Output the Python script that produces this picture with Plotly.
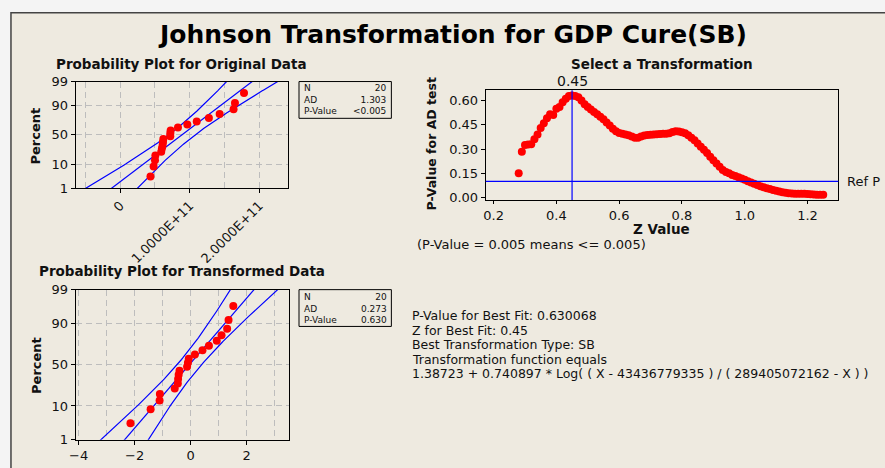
from statistics import NormalDist

import numpy as np
import plotly.graph_objects as go

W, H = 885, 468

# data
original_data = [4.35e10, 4.80e10, 5.00e10, 5.05e10, 5.90e10, 6.00e10, 6.10e10,
                 6.15e10, 6.20e10, 7.20e10, 7.20e10, 7.25e10, 8.30e10, 9.65e10,
                 1.100e11, 1.275e11, 1.430e11, 1.630e11, 1.650e11, 1.780e11]
transformed_data = [-2.15, -1.43, -1.11, -1.10, -0.57, -0.46, -0.45, -0.43, -0.40,
                    -0.13, -0.10, -0.07, 0.15, 0.42, 0.65, 0.93, 1.10, 1.30, 1.35, 1.52]

# z search for the SB transformation and AD p-values
z_values = [0.28, 0.29, 0.30, 0.31, 0.32, 0.33, 0.34, 0.35, 0.36, 0.37,
            0.38, 0.39, 0.40, 0.41, 0.42, 0.43, 0.44, 0.45, 0.46, 0.47,
            0.48, 0.49, 0.50, 0.51, 0.52, 0.53, 0.54, 0.55, 0.56, 0.57,
            0.58, 0.59, 0.60, 0.61, 0.62, 0.63, 0.64, 0.65, 0.66, 0.67,
            0.68, 0.69, 0.70, 0.71, 0.72, 0.73, 0.74, 0.75, 0.76, 0.77,
            0.78, 0.79, 0.80, 0.81, 0.82, 0.83, 0.84, 0.85, 0.86, 0.87,
            0.88, 0.89, 0.90, 0.91, 0.92, 0.93, 0.94, 0.95, 0.96, 0.97,
            0.98, 0.99, 1.00, 1.01, 1.02, 1.03, 1.04, 1.05, 1.06, 1.07,
            1.08, 1.09, 1.10, 1.11, 1.12, 1.13, 1.14, 1.15, 1.16, 1.17,
            1.18, 1.19, 1.20, 1.21, 1.22, 1.23, 1.24, 1.25]
p_values = [0.150, 0.284, 0.325, 0.328, 0.330, 0.360, 0.390, 0.430, 0.460, 0.490,
            0.515, 0.510, 0.550, 0.560, 0.590, 0.612, 0.628, 0.632, 0.628, 0.620,
            0.600, 0.578, 0.560, 0.545, 0.530, 0.515, 0.500, 0.485, 0.465, 0.445,
            0.425, 0.410, 0.400, 0.395, 0.390, 0.385, 0.378, 0.370, 0.370, 0.378,
            0.384, 0.387, 0.388, 0.390, 0.392, 0.393, 0.394, 0.395, 0.398, 0.405,
            0.410, 0.408, 0.404, 0.398, 0.385, 0.370, 0.355, 0.335, 0.315, 0.295,
            0.275, 0.252, 0.230, 0.210, 0.190, 0.170, 0.158, 0.150, 0.140, 0.133,
            0.125, 0.118, 0.110, 0.100, 0.093, 0.085, 0.078, 0.070, 0.063, 0.057,
            0.052, 0.047, 0.042, 0.038, 0.033, 0.030, 0.027, 0.025, 0.024, 0.024,
            0.024, 0.023, 0.022, 0.020, 0.018, 0.017, 0.017, 0.017]
best_z = 0.45
ref_p = 0.10

percent_ticks = [1, 10, 50, 90, 99]
orig_ticks = [0, 1e11, 2e11]
orig_ticktext = ["0", "1.0000E+11", "2.0000E+11"]

stats_keys = ["N", "AD", "P-Value"]
stats_orig = ["20", "1.303", "<0.005"]
stats_trans = ["20", "0.273", "0.630"]
summary_lines = [
    "P-Value for Best Fit: 0.630068",
    "Z for Best Fit: 0.45",
    "Best Transformation Type: SB",
    "Transformation function equals",
    "1.38723 + 0.740897 * Log( ( X - 43436779335 ) / ( 289405072162 - X ) )",
]

BG = "#EEEAE0"
FONT = "DejaVu Sans"
GRID = "#BDBDBD"
nd = NormalDist()


def pz(pct):
    return nd.inv_cdf(pct / 100.0)


def px_x(x):
    return x / W


def px_y(y):
    return 1 - y / H


def prob_traces(data, xa, ya):
    x = np.sort(np.array(data, dtype=float))
    n = len(x)
    ranks = (np.arange(1, n + 1) - 0.3) / (n + 0.4)
    zq = [nd.inv_cdf(r) for r in ranks]
    mu, sd = x.mean(), x.std(ddof=1)
    zz = np.linspace(-2.8, 2.8, 141)
    fit = mu + zz * sd
    half = 1.96 * sd * np.sqrt((1 + zz ** 2 / 2) / n)
    out = []
    for xs in (fit - half, fit, fit + half):
        out.append(go.Scatter(x=xs, y=zz, mode="lines", xaxis=xa, yaxis=ya,
                              line=dict(color="#0000FF", width=1.2),
                              hoverinfo="skip", showlegend=False))
    out.append(go.Scatter(x=x, y=zq, mode="markers", xaxis=xa, yaxis=ya,
                          marker=dict(color="#FF0000", size=8), showlegend=False))
    return out


fig = go.Figure()
for tr in prob_traces(original_data, "x", "y"):
    fig.add_trace(tr)
for tr in prob_traces(transformed_data, "x3", "y3"):
    fig.add_trace(tr)
fig.add_trace(go.Scatter(x=z_values, y=p_values, mode="markers", xaxis="x2", yaxis="y2",
                         marker=dict(color="#FF0000", size=8), showlegend=False))

tickfont = dict(family=FONT, size=13, color="#111")
grid = dict(showgrid=True, gridcolor=GRID, griddash="6px,4px", gridwidth=1)
frame = dict(showline=True, mirror=True, linecolor="black", linewidth=1,
             zeroline=False, ticks="outside", ticklen=4, tickcolor="black",
             tickfont=tickfont)

prob_y = dict(range=[pz(1), pz(99)], tickmode="array",
              tickvals=[pz(p) for p in percent_ticks],
              ticktext=[str(p) for p in percent_ticks], **grid, **frame)

fig.update_layout(
    width=W, height=H, margin=dict(l=0, r=0, t=0, b=0),
    paper_bgcolor="#F4F4F4", plot_bgcolor="white", showlegend=False,
    xaxis=dict(domain=[px_x(70), px_x(284)], anchor="y",
               range=[-0.643e11, 2.414e11], tickmode="array",
               tickvals=orig_ticks, ticktext=orig_ticktext, tickangle=-45,
               minor=dict(tickvals=[-0.5e11, 0.5e11, 1.5e11], showgrid=True,
                          gridcolor=GRID, griddash="6px,4px", ticks=""),
               **grid, **frame),
    yaxis=dict(domain=[px_y(187), px_y(77)], anchor="x", **prob_y),
    xaxis2=dict(domain=[px_x(483), px_x(838)], anchor="y2", range=[0.175, 1.298],
                tickmode="array", tickvals=[0.2, 0.4, 0.6, 0.8, 1.0, 1.2],
                tickformat=".1f", showgrid=False, **frame),
    yaxis2=dict(domain=[px_y(199.5), px_y(86)], anchor="x2", range=[-0.016, 0.664],
                tickmode="array", tickvals=[0, 0.15, 0.30, 0.45, 0.60],
                tickformat=".2f", showgrid=False, **frame),
    xaxis3=dict(domain=[px_x(70), px_x(285)], anchor="y3", range=[-4.11, 3.51],
                tickmode="array", tickvals=[-4, -2, 0, 2],
                minor=dict(tickvals=[-3, -1, 1, 3], showgrid=True,
                           gridcolor=GRID, griddash="6px,4px", ticks=""),
                **grid, **frame),
    yaxis3=dict(domain=[px_y(447), px_y(292)], anchor="x3", **prob_y),
)
fig.update_xaxes(ticklen=3, selector=dict(anchor="y2"))

shapes = [
    # Minitab-style window frame
    dict(type="rect", xref="paper", yref="paper", x0=px_x(5), x1=1.02,
         y0=-0.02, y1=px_y(6), fillcolor=BG, line=dict(color="#444", width=1.5),
         layer="below"),
    # reference lines on the transformation plot
    dict(type="line", xref="x2", yref="y2 domain", x0=best_z, x1=best_z, y0=0, y1=1,
         line=dict(color="#0000FF", width=1.2)),
    dict(type="line", xref="x2 domain", yref="y2", x0=0, x1=1, y0=ref_p, y1=ref_p,
         line=dict(color="#0000FF", width=1.2)),
]
box_rows = ((77, 115), (292, 330))
for y0, y1 in box_rows:
    shapes.append(dict(type="rect", xref="paper", yref="paper",
                       x0=px_x(295), x1=px_x(388), y0=px_y(y1), y1=px_y(y0),
                       line=dict(color="black", width=1), fillcolor=BG))
fig.update_layout(shapes=shapes)


def txt(x, y, s, size=11, bold=False, xanchor="left", angle=0, color="#111",
        align="left", family=FONT):
    fig.add_annotation(x=px_x(x), y=px_y(y), xref="paper", yref="paper", text=s,
                       showarrow=False, xanchor=xanchor, yanchor="middle",
                       textangle=angle, align=align, borderpad=0,
                       font=dict(family=family, size=size, color=color,
                                 weight="bold" if bold else "normal"))


txt(450, 28, "Johnson Transformation for GDP Cure(SB)", size=25, bold=True,
    xanchor="center", color="black")
txt(177, 59, "Probability Plot for Original Data", size=13.5, bold=True, xanchor="center")
txt(177, 273, "Probability Plot for Transformed Data", size=13.5, bold=True, xanchor="center")
txt(660, 59, "Select a Transformation", size=13.5, bold=True, xanchor="center")
txt(30, 133, "Percent", size=13, bold=True, xanchor="center", angle=-90)
txt(30, 370, "Percent", size=13, bold=True, xanchor="center", angle=-90)
txt(428, 142, "P-Value for AD test", size=12.5, bold=True, xanchor="center", angle=-90)
txt(660, 229, "Z Value", size=13.5, bold=True, xanchor="center")
txt(570, 76, f"{best_z:.2f}", size=14, xanchor="center")
txt(846, 180, "Ref P", size=13)
txt(413, 245, "(P-Value = 0.005 means <= 0.005)", size=13)

for (y0, y1), vals in zip(box_rows, (stats_orig, stats_trans)):
    mid = (y0 + y1) / 2
    txt(299, mid, "<br>".join(stats_keys), size=9)
    txt(385, mid, "<br>".join(vals), size=9, xanchor="right", align="right")

for i, line in enumerate(summary_lines):
    txt(408, 319 + i * 15, line, size=12.5)

fig.write_html("out.html", config={"displayModeBar": False},
               post_script="document.body.style.margin = '0';")
